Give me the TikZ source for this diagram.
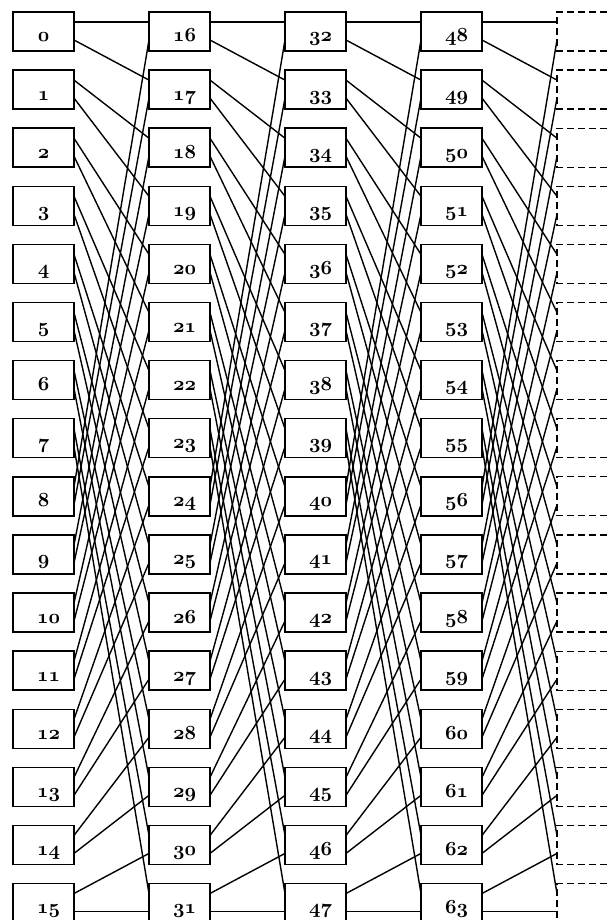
\documentclass[tikz,border=0pt]{standalone}
\usetikzlibrary{calc}
\font\numfnt=cmmib10 at 20pt
\tikzset{
  cell/.style={draw, line width=1.4pt, minimum width=61pt, minimum height=39pt, inner sep=0pt, outer sep=0pt},
  ghost/.style={minimum width=61pt, minimum height=39pt, inner sep=0pt, outer sep=0pt},
  ghostline/.style={line width=1.2pt, dash pattern=on 7pt off 4pt},
  wire/.style={line width=1.4pt},
  num/.style={anchor=base, inner sep=0pt, font=\numfnt}
}
\begin{document}
\begin{tikzpicture}[x=1pt,y=-1pt]
\useasboundingbox (0,0) rectangle (610,920);
\clip (0,0) rectangle (610,920);
\foreach \col in {0,...,3}{
  \foreach \row in {0,...,15}{
    \pgfmathtruncatemacro{\nn}{16*\col+\row}
    \pgfmathsetmacro{\dx}{\nn<10 ? 0 : 5}
    \node[cell] (b-\col-\row) at ({13+136*\col+30.5},{12+58.1*\row+19.5}) {};
    \node[num] (t-\col-\row) at ($(b-\col-\row.center)+(\dx,10.5)$) {\nn};
  }
}
\foreach \row in {0,...,15}{
  \node[ghost] (b-4-\row) at ({13+136*4+30.5},{12+58.1*\row+19.5}) {};
  \draw[ghostline] (b-4-\row.north east) -- (b-4-\row.north west) -- (b-4-\row.south west) -- (b-4-\row.south east);
}
\foreach \col [evaluate=\col as \nxt using int(\col+1)] in {0,...,3}{
  \foreach \src in {0,...,15}{
    \pgfmathtruncatemacro{\ta}{mod(2*\src,16)}
    \pgfmathtruncatemacro{\tb}{mod(2*\src+1,16)}
    \pgfmathtruncatemacro{\pp}{\src<8 ? 10 : 28}
    \draw[wire] ($(b-\col-\src.north east)+(0,10)$) -- ($(b-\nxt-\ta.north west)+(0,\pp)$);
    \draw[wire] ($(b-\col-\src.north east)+(0,28)$) -- ($(b-\nxt-\tb.north west)+(0,\pp)$);
  }
}
\end{tikzpicture}
\end{document}
